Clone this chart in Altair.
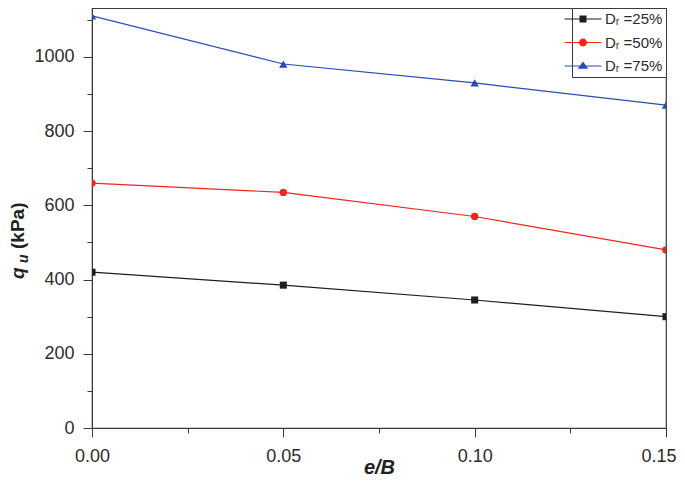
import altair as alt
import pandas as pd

# ---- data ----
ratios = [0.00, 0.05, 0.10, 0.15]
qu_dr25 = [420, 385, 345, 300]
qu_dr50 = [660, 635, 570, 480]
qu_dr75 = [1111, 981, 930, 870]
series_names = ["Dᵣ =25%", "Dᵣ =50%", "Dᵣ =75%"]
series_colors = ["#1f1f1f", "#f3231f", "#2a4ab4"]
series_shapes = ["square", "circle", "triangle-up"]
x_major = [0.0, 0.05, 0.10, 0.15]
x_minor = [0.025, 0.075, 0.125]
y_major = [0, 200, 400, 600, 800, 1000]
y_minor = [100, 300, 500, 700, 900, 1100]

rows = []
for name, vals in zip(series_names, [qu_dr25, qu_dr50, qu_dr75]):
    for xv, yv in zip(ratios, vals):
        rows.append({"eB": xv, "qu": yv, "series": name})
df = pd.DataFrame(rows)

FONT = "Liberation Sans"
AX = "#3a3a3a"
TXT = "#2b2b2b"

xscale = alt.Scale(domain=[0, 0.15], nice=False, zero=False)
yscale = alt.Scale(domain=[0, 1132], nice=False)
cscale = alt.Scale(domain=series_names, range=series_colors)

# legend symbols: line with marker (custom paths)
LINE = "M-2.3,-0.075H2.3V0.075H-2.3Z "
legend_paths = [
    LINE + "M-0.44,-0.44H0.44V0.44H-0.44Z",
    LINE + "M0.5,0A0.5,0.5 0 1,1 -0.5,0A0.5,0.5 0 1,1 0.5,0Z",
    LINE + "M0,-0.55L0.66,0.35H-0.66Z",
]

last_tick = "datum.value >= 0.149"
x_major_axis = alt.Axis(
    values=x_major, format=".2f", orient="bottom", grid=False,
    tickSize=9, labelPadding=10, labelFontSize=18, labelFont=FONT,
    labelColor=TXT, domainColor=AX, tickColor=AX, labelFlush=False,
    labelOverlap=False,
    labelAlign={"condition": {"test": last_tick, "value": "right"}, "value": "center"},
    labelOffset={"condition": {"test": last_tick, "value": 10}, "value": 0},
    title="e/B", titleFont=FONT, titleFontSize=20, titleFontWeight="bold",
    titleFontStyle="italic", titleColor="#222", titleY=45,
    titleBaseline="alphabetic",
)
y_major_axis = alt.Axis(
    values=y_major, format="d", orient="left", grid=False, tickSize=9,
    labelPadding=9, labelFontSize=18, labelFont=FONT, labelColor=TXT,
    domainColor=AX, tickColor=AX, labelFlush=False, labelOverlap=False,
    title=None,
)
x_minor_axis = alt.Axis(
    values=x_minor, orient="bottom", grid=False, tickSize=5, labels=False,
    domain=False, tickColor=AX, title=None,
)
y_minor_axis = alt.Axis(
    values=y_minor, orient="left", grid=False, tickSize=5, labels=False,
    domain=False, tickColor=AX, title=None,
)

leg = alt.Legend(
    title=None, orient="top-right", offset=0, padding=3,
    strokeColor=AX, fillColor="white", cornerRadius=0,
    labelFont=FONT, labelFontSize=15, labelColor=TXT,
    symbolSize=256, symbolStrokeWidth=0,
    labelOffset=14, rowPadding=7.5,
)

base = alt.Chart(df)

legend_layer = base.transform_filter("false").mark_point(
    filled=True, size=256, opacity=1, clip=True
).encode(
    x=alt.X("eB:Q", scale=xscale, axis=None),
    y=alt.Y("qu:Q", scale=yscale, axis=None),
    color=alt.Color("series:N", scale=cscale, legend=leg),
    shape=alt.Shape("series:N", scale=alt.Scale(domain=series_names, range=legend_paths), legend=leg),
)

lines = base.mark_line(strokeWidth=1.2, clip=True).encode(
    x=alt.X("eB:Q", scale=xscale, axis=x_major_axis),
    y=alt.Y("qu:Q", scale=yscale, axis=y_major_axis),
    color=alt.Color("series:N", scale=cscale),
)

point_layers = []
sizes = [50, 55, 70]
for i, (name, shp, sz) in enumerate(zip(series_names, series_shapes, sizes)):
    xa = x_minor_axis if i == 0 else None
    ya = y_minor_axis if i == 0 else None
    point_layers.append(
        base.transform_filter(alt.datum.series == name)
        .mark_point(filled=True, shape=shp, size=sz, opacity=1, clip=True)
        .encode(
            x=alt.X("eB:Q", scale=xscale, axis=xa),
            y=alt.Y("qu:Q", scale=yscale, axis=ya),
            color=alt.Color("series:N", scale=cscale),
        )
    )

tdf = pd.DataFrame({"k": [0]})
t_q = alt.Chart(tdf).mark_text(
    text="q", angle=270, align="left", baseline="alphabetic", font=FONT,
    fontSize=19, fontWeight="bold", fontStyle="italic", color="#222",
).encode(x=alt.value(-68.5), y=alt.value(271))
t_u = alt.Chart(tdf).mark_text(
    text="u", angle=270, align="left", baseline="alphabetic", font=FONT,
    fontSize=14, fontWeight="bold", fontStyle="italic", color="#222",
).encode(x=alt.value(-64), y=alt.value(255))
t_k = alt.Chart(tdf).mark_text(
    text="(kPa)", angle=270, align="left", baseline="alphabetic", font=FONT,
    fontSize=19, fontWeight="bold", color="#222",
).encode(x=alt.value(-68.5), y=alt.value(241))

chart = alt.layer(
    legend_layer, lines, *point_layers, t_q, t_u, t_k
).resolve_axis(x="independent", y="independent").properties(
    width=574, height=420,
    autosize=alt.AutoSizeParams(type="none"),
    padding={"left": 84, "top": 0, "right": 11, "bottom": 48},
).configure_view(stroke=AX, strokeWidth=1.2)

chart.save("out.html", embed_options={"renderer": "svg", "actions": False})
